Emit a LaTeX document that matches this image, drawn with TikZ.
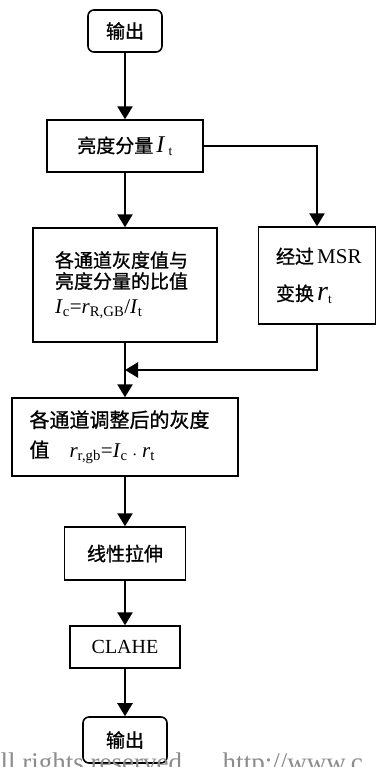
\documentclass[tikz,border=0pt]{standalone}
\usepackage{fontspec}
\setmainfont{Liberation Serif}
\newfontfamily\cjk{Noto Sans CJK SC}[FakeBold=1]
\usetikzlibrary{arrows.meta,positioning,calc}
\newcommand{\lat}[1]{{\rmfamily #1}}
\tikzset{
  proc/.style={draw, line width=1.4pt, inner sep=0pt, align=center,
    font=\cjk\fontsize{19}{22}\selectfont},
  term/.style={proc, rounded corners=6pt, line width=1.6pt},
  flow/.style={line width=2.4pt, -{Triangle[width=15pt,length=13pt]}},
}
\begin{document}
\begin{tikzpicture}[x=1pt, y=1pt]
    \useasboundingbox (0,0) rectangle (377,-767);
    \node (out1) [term, minimum width=74pt, minimum height=42pt] at (125,-31) {输出};
    \node (bright) [proc, node distance=115pt, below of=out1, minimum width=156pt, minimum height=52pt]
      {亮度分量\,\lat{\textit{\fontsize{24}{22}\selectfont I}\,\textsubscript{t}}};
    \node (ratio) [proc, node distance=139pt, below of=bright, minimum width=184pt, minimum height=114pt,
      text width=140pt, align=left, font=\cjk\fontsize{19}{21}\selectfont]
      {各通道灰度值与\\亮度分量的比值\\[4pt]
       \lat{\fontsize{21}{21}\selectfont\textit{I}\textsubscript{c}=\textit{r}\textsubscript{R,GB}/\textit{I}\textsubscript{t}}};
    \node (msr) [proc, node distance=192pt, right of=ratio, yshift=9.5pt, minimum width=117pt, minimum height=97pt,
      text width=82pt, align=left, font=\cjk\fontsize{19}{37}\selectfont]
      {经过\,\lat{\fontsize{21}{37}\selectfont MSR}\\变换\,\lat{\textit{\fontsize{28}{37}\selectfont r}\textsubscript{t}}};
    \node (adjust) [proc, node distance=152pt, below of=ratio, minimum width=226pt, minimum height=78pt,
      text width=191pt, align=left, font=\cjk\fontsize{20}{30}\selectfont]
      {各通道调整后的灰度\\值\quad\lat{\fontsize{21}{30}\selectfont\textit{r}\textsubscript{r,gb}=\textit{I}\textsubscript{c}\;{\footnotesize\textbullet}\;\textit{r}\textsubscript{t}}};
    \node (stretch) [proc, node distance=116.5pt, below of=adjust, minimum width=121pt, minimum height=53pt] {线性拉伸};
    \node (clahe) [proc, node distance=93.5pt, below of=stretch, minimum width=110pt, minimum height=42pt]
      {\lat{\fontsize{20}{22}\selectfont CLAHE}};
    \node (out2) [term, node distance=93pt, below of=clahe, minimum width=84pt, minimum height=46pt] {输出};
    \coordinate (join) at ($(ratio.south)!0.5!(adjust.north)$);
    \draw[flow] (out1) -- (bright);
    \draw[flow] (bright) -- (ratio);
    \draw[flow] (bright.east) -| (msr.north);
    \draw[flow] (ratio) -- (adjust);
    \draw[flow] (msr.south) |- (join);
    \draw[flow] (adjust) -- (stretch);
    \draw[flow] (stretch) -- (clahe);
    \draw[flow] (clahe) -- (out2);
    \node (mark) [anchor=base west, text=black!45, font=\fontsize{27}{27}\selectfont] at (-3,-771)
      {ll rights reserved.\hspace{34pt}http://www.c};
\end{tikzpicture}
\end{document}
